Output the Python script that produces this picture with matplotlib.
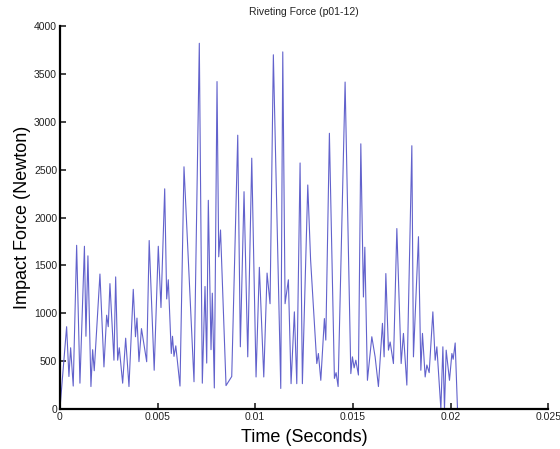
import numpy as np
import matplotlib
matplotlib.use("Agg")
import matplotlib.pyplot as plt
from matplotlib.ticker import FuncFormatter, MultipleLocator

plt.rcParams['font.family'] = ['Liberation Sans', 'DejaVu Sans']

# time (s) and force (N), peaks and troughs
t = [0.0, 0.000343, 0.000461, 0.000548, 0.000681, 0.000856, 0.001025, 0.001255,
     0.001332, 0.001434, 0.001588, 0.001675, 0.001757, 0.002049, 0.002254, 0.002392,
     0.002474, 0.002561, 0.002766, 0.002854, 0.002956, 0.003038, 0.003212, 0.003366,
     0.003535, 0.003755, 0.003868, 0.003945, 0.004047, 0.004175, 0.004442, 0.004570,
     0.004826, 0.005036, 0.005174, 0.005364, 0.005466, 0.005548, 0.005702, 0.005763,
     0.005840, 0.005932, 0.006148, 0.006352, 0.006865, 0.007136, 0.007290, 0.007428,
     0.007515, 0.007597, 0.007736, 0.007802, 0.007905, 0.008043, 0.008130, 0.008222,
     0.008504, 0.008796, 0.009104, 0.009237, 0.009426, 0.009616, 0.009821, 0.010041,
     0.010210, 0.010436, 0.010605, 0.010758, 0.010927, 0.011306, 0.011409, 0.011527,
     0.011696, 0.011834, 0.012003, 0.012126, 0.012295, 0.012413, 0.012689, 0.012833,
     0.013151, 0.013233, 0.013356, 0.013540, 0.013612, 0.013796, 0.014053, 0.014139,
     0.014242, 0.014600, 0.014893, 0.014975, 0.015062, 0.015149, 0.015282, 0.015405,
     0.015538, 0.015610, 0.015743, 0.015968, 0.016137, 0.016306, 0.016512, 0.016598,
     0.016686, 0.016819, 0.016906, 0.017075, 0.017249, 0.017470, 0.017587, 0.017761,
     0.018017, 0.018099, 0.018356, 0.018478, 0.018561, 0.018699, 0.018786, 0.018904,
     0.019093, 0.019211, 0.019298, 0.019503, 0.019606, 0.019688, 0.019775, 0.019944,
     0.020067, 0.020133, 0.020236, 0.020354]

force = [0, 860, 340, 640, 240, 1710, 270, 1700,
         760, 1600, 235, 620, 400, 1410, 440, 980,
         860, 1310, 510, 1380, 510, 640, 270, 740,
         235, 1250, 755, 950, 495, 840, 494, 1760,
         405, 1700, 1060, 2300, 1150, 1350, 580, 760,
         550, 660, 240, 2530, 285, 3820, 270, 1280,
         480, 2180, 620, 1210, 220, 3420, 1590, 1870,
         245, 340, 2860, 650, 2270, 545, 2620, 335,
         1480, 335, 1420, 1100, 3700, 215, 3730, 1100,
         1350, 265, 1015, 265, 2570, 265, 2340, 1560,
         475, 580, 300, 945, 720, 2880, 320, 380,
         235, 3415, 370, 545, 430, 510, 355, 2770,
         1170, 1690, 300, 755, 545, 235, 895, 545,
         1415, 615, 700, 475, 1885, 475, 790, 250,
         2750, 545, 1800, 405, 790, 335, 460, 380,
         1015, 510, 650, 0, 650, 0, 615, 300,
         580, 520, 690, 0]

fig = plt.figure(figsize=(5.6, 4.49), dpi=100)
ax = fig.add_axes([0.107, 0.089, 0.872, 0.853])

ax.plot(t, force, color='#6262cc', lw=0.8, solid_joinstyle='round')

ax.set_xlim(0, 0.025)
ax.set_ylim(0, 4000)
ax.xaxis.set_major_locator(MultipleLocator(0.005))
ax.yaxis.set_major_locator(MultipleLocator(500))
ax.xaxis.set_major_formatter(FuncFormatter(lambda v, p: '%g' % round(v, 4)))
ax.yaxis.set_major_formatter(FuncFormatter(lambda v, p: '%g' % v))

for s in ['top', 'right']:
    ax.spines[s].set_visible(False)
for s in ['left', 'bottom']:
    ax.spines[s].set_linewidth(1.6)
ax.tick_params(direction='in', length=4, width=1.2, labelsize=7.5, pad=2,
               colors='#222222')

ax.set_title('Riveting Force (p01-12)', fontsize=7.5, pad=8, color='#222222')
ax.set_xlabel('Time (Seconds)', fontsize=13, labelpad=5)
ax.set_ylabel('Impact Force (Newton)', fontsize=13, labelpad=2)

fig.savefig('out.png', dpi=100)
